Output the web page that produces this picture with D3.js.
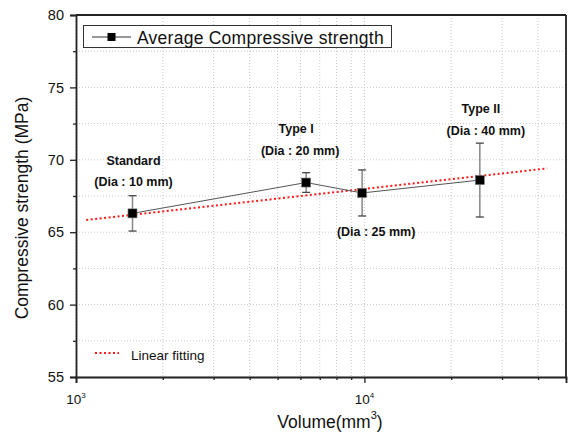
<!DOCTYPE html>
<html>
<head>
<meta charset="utf-8">
<script src="https://cdn.jsdelivr.net/npm/d3@7"></script>
<style>
  body { margin: 0; background: #fff; }
  svg { font-family: "Liberation Sans", Arial, sans-serif; }
</style>
</head>
<body>
<div id="chart"></div>
<script>
// data
var volumes = [1570, 6280, 9820, 25130];          // mm^3
var strength = [66.3, 68.43, 67.71, 68.6];       // MPa
var errors = [1.22, 0.68, 1.59, 2.55];
var fitX = [1085, 43000];
var fitY = [65.84, 69.41];
var yTicks = [55, 60, 65, 70, 75, 80];
var xMajor = [1000, 10000];
var xMinor = [2000, 3000, 4000, 5000, 6000, 7000, 8000, 9000, 20000, 30000, 40000, 50000];
var labelTop = ["Standard", "Type I", "", "Type II"];
var labelDia = ["(Dia : 10 mm)", "(Dia : 20 mm)", "(Dia : 25 mm)", "(Dia : 40 mm)"];

var width = 568, height = 436;
var margin = { top: 15, right: 2, bottom: 59, left: 76 };
var w = width - margin.left - margin.right;
var h = height - margin.top - margin.bottom;

var svg = d3.select("#chart").append("svg")
  .attr("width", width)
  .attr("height", height);

var g = svg.append("g")
  .attr("transform", "translate(" + margin.left + "," + margin.top + ")");

var x = d3.scaleLog().domain([1000, 50000]).range([0, w]);
var y = d3.scaleLinear().domain([55, 80]).range([h, 0]);

// grid
var yGrid = d3.range(55, 80.1, 2.5);
g.selectAll(".hgrid").data(yGrid).enter().append("line")
  .attr("x1", 0).attr("x2", w)
  .attr("y1", d => y(d)).attr("y2", d => y(d))
  .attr("stroke", "#c8c8c8").attr("stroke-width", 1)
  .attr("stroke-dasharray", "1,2");
g.selectAll(".vgrid").data(xMajor.concat(xMinor)).enter().append("line")
  .attr("x1", d => x(d)).attr("x2", d => x(d))
  .attr("y1", 0).attr("y2", h)
  .attr("stroke", "#c8c8c8").attr("stroke-width", 1)
  .attr("stroke-dasharray", "1,2");

// axes
var yAxis = d3.axisLeft(y).tickValues(yTicks).tickSize(6).tickPadding(6);
var yAx = g.append("g").call(yAxis);
yAx.selectAll("text").attr("font-size", 14.5).attr("fill", "#111")
  .style("font-family", "Liberation Sans, Arial, sans-serif");
var yMinor = d3.axisLeft(y).tickValues([57.5, 62.5, 67.5, 72.5, 77.5]).tickSize(3).tickFormat("");
g.append("g").call(yMinor).select(".domain").remove();

var xAx = g.append("g").attr("transform", "translate(0," + h + ")")
  .call(d3.axisBottom(x).tickValues(xMajor).tickSize(6).tickFormat(""));
var xMin = g.append("g").attr("transform", "translate(0," + h + ")")
  .call(d3.axisBottom(x).tickValues(xMinor).tickSize(3).tickFormat(""));
xMin.select(".domain").remove();
g.selectAll(".tick line").attr("stroke", "#222").attr("stroke-width", 1.3);
g.selectAll(".domain").attr("stroke", "#222").attr("stroke-width", 1.8);

// x tick labels 10^n
xMajor.forEach(function(v) {
  var t = g.append("text")
    .attr("x", x(v)).attr("y", h + 27)
    .attr("text-anchor", "middle")
    .attr("font-size", 13.5).attr("fill", "#111");
  t.append("tspan").text("10");
  t.append("tspan").attr("dy", -6).attr("font-size", 8).text(Math.round(Math.log10(v)));
});

// top and right frame
g.append("line").attr("x1", 0).attr("x2", w).attr("y1", 0).attr("y2", 0)
  .attr("stroke", "#222").attr("stroke-width", 1.8);
g.append("line").attr("x1", w).attr("x2", w).attr("y1", 0).attr("y2", h)
  .attr("stroke", "#222").attr("stroke-width", 1.8);

// axis titles
var xt = svg.append("text")
  .attr("x", 330).attr("y", 428)
  .attr("text-anchor", "middle")
  .attr("font-size", 17.5).attr("fill", "#111");
xt.append("tspan").text("Volume(mm");
xt.append("tspan").attr("dy", -9).attr("font-size", 11).text("3");
xt.append("tspan").attr("dy", 9).text(")");

svg.append("text")
  .attr("transform", "translate(28," + 208 + ") rotate(-90)")
  .attr("text-anchor", "middle")
  .attr("font-size", 17.5).attr("fill", "#111")
  .text("Compressive strength (MPa)");

// linear fit
g.append("line")
  .attr("x1", x(fitX[0])).attr("y1", y(fitY[0]))
  .attr("x2", x(fitX[1])).attr("y2", y(fitY[1]))
  .attr("stroke", "#ff1a1a").attr("stroke-width", 2)
  .attr("stroke-dasharray", "2,2.5");

var pts = volumes.map((v, i) => ({ v: v, s: strength[i], e: errors[i] }));

// data line
g.append("path").datum(pts)
  .attr("fill", "none").attr("stroke", "#555").attr("stroke-width", 1)
  .attr("d", d3.line().x(d => x(d.v)).y(d => y(d.s)));

// error bars
var eb = g.selectAll(".eb").data(pts).enter().append("g");
eb.append("line")
  .attr("x1", d => x(d.v)).attr("x2", d => x(d.v))
  .attr("y1", d => y(d.s + d.e)).attr("y2", d => y(d.s - d.e))
  .attr("stroke", "#888").attr("stroke-width", 1.5);
[1, -1].forEach(function(sgn) {
  eb.append("line")
    .attr("x1", d => x(d.v) - 4).attr("x2", d => x(d.v) + 4)
    .attr("y1", d => y(d.s + sgn * d.e)).attr("y2", d => y(d.s + sgn * d.e))
    .attr("stroke", "#444").attr("stroke-width", 1.3);
});

// markers
g.selectAll(".pt").data(pts).enter().append("rect")
  .attr("x", d => x(d.v) - 4.5).attr("y", d => y(d.s) - 4.5)
  .attr("width", 9).attr("height", 9)
  .attr("fill", "#000").attr("stroke", "#777").attr("stroke-width", 0.6);

// annotations (offsets in px from each point)
var annTop = [[1, -48], [-10, -50], null, [1, -67]];
var annDia = [[1, -27], [-6, -28], [14, 43], [6, -45]];
pts.forEach(function(d, i) {
  if (labelTop[i]) {
    g.append("text")
      .attr("x", x(d.v) + annTop[i][0]).attr("y", y(d.s) + annTop[i][1])
      .attr("text-anchor", "middle").attr("font-size", 12.5)
      .attr("font-weight", "bold").attr("fill", "#111")
      .text(labelTop[i]);
  }
  g.append("text")
    .attr("x", x(d.v) + annDia[i][0]).attr("y", y(d.s) + annDia[i][1])
    .attr("text-anchor", "middle").attr("font-size", 12.5)
    .attr("font-weight", "bold").attr("fill", "#111")
    .text(labelDia[i]);
});

// legend: average
svg.append("rect")
  .attr("x", 83.5).attr("y", 25.5).attr("width", 308).attr("height", 22)
  .attr("fill", "#fff").attr("stroke", "#333").attr("stroke-width", 1);
svg.append("line").attr("x1", 92).attr("x2", 131).attr("y1", 37).attr("y2", 37)
  .attr("stroke", "#333").attr("stroke-width", 1);
svg.append("rect").attr("x", 107.5).attr("y", 33).attr("width", 8).attr("height", 8)
  .attr("fill", "#000");
svg.append("text").attr("x", 137).attr("y", 43.5)
  .attr("font-size", 17.5).attr("fill", "#111")
  .attr("letter-spacing", 0.25)
  .text("Average Compressive strength");

// legend: fit
svg.append("line").attr("x1", 95).attr("x2", 119).attr("y1", 353).attr("y2", 353)
  .attr("stroke", "#ff1a1a").attr("stroke-width", 2)
  .attr("stroke-dasharray", "2,2.5");
svg.append("text").attr("x", 131).attr("y", 360)
  .attr("font-size", 13.5).attr("fill", "#111")
  .text("Linear fitting");
</script>
</body>
</html>
